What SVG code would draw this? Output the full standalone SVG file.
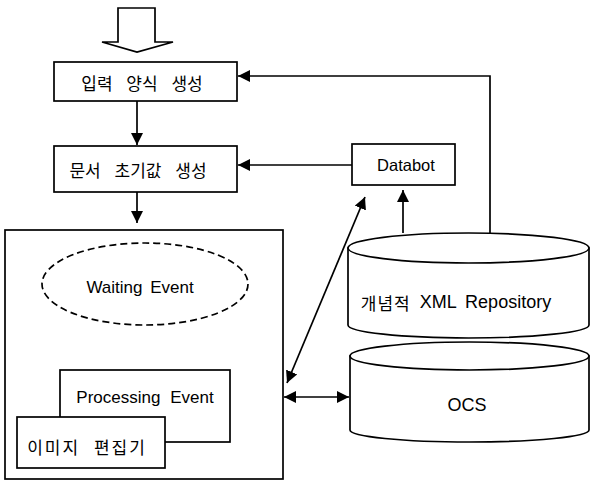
<svg xmlns="http://www.w3.org/2000/svg" width="590" height="481" viewBox="0 0 590 481">
<style>
.box{fill:#fff;stroke:#000;stroke-width:1.7}
.ln{fill:none;stroke:#000;stroke-width:1.7}
.t{font-family:"Liberation Sans","Noto Sans CJK KR",sans-serif;font-size:17px;fill:#000;text-anchor:middle;dominant-baseline:central}
.k{font-family:"Noto Sans CJK KR","Liberation Sans",sans-serif;font-size:17px;word-spacing:10px}
</style>
<defs>
<marker id="ah" viewBox="0 0 12 12" refX="12" refY="6" markerWidth="12" markerHeight="12" markerUnits="userSpaceOnUse" orient="auto-start-reverse">
<path d="M0,0 L12,6 L0,12 Z" fill="#000"/>
</marker>
</defs>
<g id="connectors">
<path class="ln" d="M137,101 V145" marker-end="url(#ah)"/>
<path class="ln" d="M137,192 V223" marker-end="url(#ah)"/>
<path class="ln" d="M490,233 V76 H238" marker-end="url(#ah)"/>
<path class="ln" d="M352,165 H238" marker-end="url(#ah)"/>
<path class="ln" d="M403,233 V190" marker-end="url(#ah)"/>
<path class="ln" d="M287,383 L365,197" marker-start="url(#ah)" marker-end="url(#ah)"/>
<path class="ln" d="M284,397 H349" marker-start="url(#ah)" marker-end="url(#ah)"/>
<path class="ln" d="M142,325 V367" marker-end="url(#ah)"/>
</g>
<g id="input-arrow">
<path class="box" d="M118,8 H155 V42 H173 L137,52 L102,42 H118 Z"/>
</g>
<g id="n1">
<rect class="box" x="54" y="62" width="183" height="39"/>
<text class="t k" x="142" y="82">입력 양식 생성</text>
</g>
<g id="n2">
<rect class="box" x="54" y="146" width="183" height="46"/>
<text class="t k" x="138" y="169">문서 초기값 생성</text>
</g>
<g id="databot">
<rect class="box" x="352" y="144" width="103" height="41"/>
<text class="t" x="406" y="165" style="font-size:16.5px">Databot</text>
</g>
<g id="container">
<rect class="box" x="5" y="230" width="278" height="249"/>
</g>
<g id="waiting">
<ellipse cx="145" cy="284" rx="103" ry="41" fill="#fff" stroke="#000" stroke-width="1.7" stroke-dasharray="7,4"/>
<text class="t" x="140" y="287" style="word-spacing:3px">Waiting Event</text>
</g>
<g id="processing">
<rect class="box" x="60" y="370" width="170" height="72"/>
<text class="t" x="145" y="397" style="word-spacing:5px">Processing Event</text>
</g>
<g id="editor">
<rect class="box" x="17" y="417" width="148" height="51"/>
<text class="t k" x="87" y="446" style="letter-spacing:2px;word-spacing:8px">이미지 편집기</text>
</g>
<g id="repository">
<path class="box" d="M348,248 V325 A120.5,13 0 0 0 589,325 V248 Z"/>
<ellipse class="box" cx="468.5" cy="248" rx="120.5" ry="15"/>
<text class="t" x="456" y="302" style="font-size:18px;word-spacing:4px"><tspan style="font-family:'Noto Sans CJK KR',sans-serif;font-size:17px;letter-spacing:1px">개념적</tspan> XML Repository</text>
</g>
<g id="ocs">
<path class="box" d="M350,356 V430 A119.5,12 0 0 0 589,430 V356 Z"/>
<ellipse class="box" cx="469.5" cy="356" rx="119.5" ry="14"/>
<text class="t" x="467" y="405" style="font-size:18px">OCS</text>
</g>
</svg>
